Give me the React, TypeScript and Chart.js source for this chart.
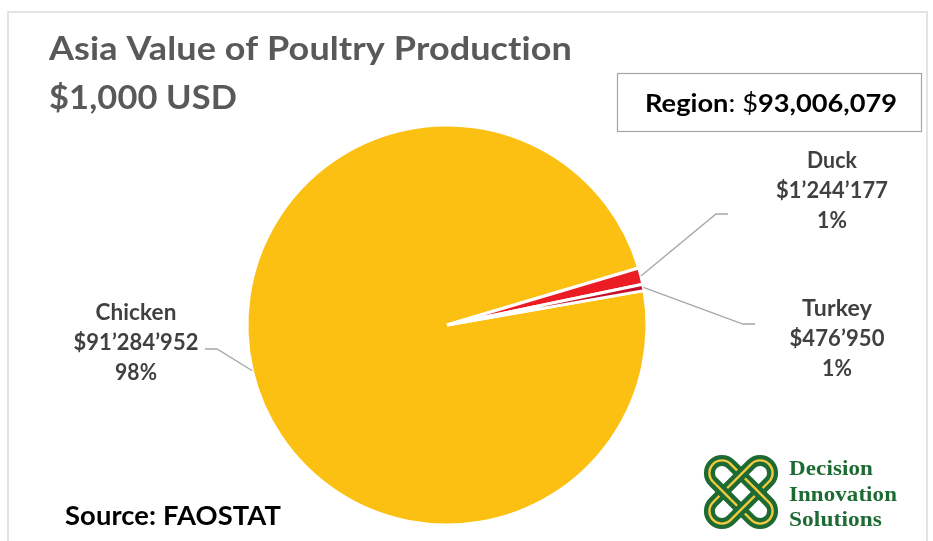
import React, { useEffect, useRef } from "react";
import { Chart, registerables } from "chart.js";

Chart.register(...registerables);

// ---- data ----
const categories = ["Chicken", "Duck", "Turkey"];
const values = [91284952, 1244177, 476950];
const valueLabels = ["$91’284’952", "$1’244’177", "$476’950"];
const percentLabels = ["98%", "1%", "1%"];
const sliceColors = ["#FBC012", "#EC1C24", "#C8102E"];
const titleLines = ["Asia Value of Poultry Production", "$1,000 USD"];
const regionLabel = "Region";
const regionTotal = "93,006,079";
const sourceText = "Source: FAOSTAT";
const logoLines = ["Decision", "Innovation", "Solutions"];

// ---- layout (positions / styles only) ----
const W = 933;
const H = 541;
const labelLayout = [
  { cx: 136, baseline: 320, elbow: [217, 349], end: [205, 349], widths: [81, 125, 42] },
  { cx: 832, baseline: 168, elbow: [716, 214], end: [728, 214], widths: [50, 112, 30] },
  { cx: 837, baseline: 316, elbow: [743, 324], end: [755, 324], widths: [70, 95, 30] },
];
const SANS = "Lato, 'Open Sans', sans-serif";
const SERIF = "'Liberation Serif', 'DejaVu Serif', serif";

function fitText(
  ctx: CanvasRenderingContext2D,
  text: string,
  x: number,
  y: number,
  font: string,
  color: string,
  align: "left" | "center",
  target?: number
) {
  ctx.save();
  ctx.font = font;
  (ctx as any).letterSpacing = "0.1px";
  ctx.fillStyle = color;
  ctx.textBaseline = "alphabetic";
  const w = ctx.measureText(text).width;
  const sx = target ? target / w : 1;
  const drawW = w * sx;
  const left = align === "center" ? x - drawW / 2 : x;
  ctx.translate(left, y);
  ctx.scale(sx, 1);
  ctx.textAlign = "left";
  ctx.fillText(text, 0, 0);
  ctx.restore();
}

function pillPath(ctx: CanvasRenderingContext2D, half: number, r: number) {
  ctx.beginPath();
  ctx.moveTo(-half, -r);
  ctx.lineTo(half, -r);
  ctx.arc(half, 0, r, -Math.PI / 2, Math.PI / 2);
  ctx.lineTo(-half, r);
  ctx.arc(-half, 0, r, Math.PI / 2, (3 * Math.PI) / 2);
  ctx.closePath();
}

function drawPill(ctx: CanvasRenderingContext2D, cx: number, cy: number, ang: number) {
  ctx.save();
  ctx.translate(cx, cy);
  ctx.rotate(ang);
  pillPath(ctx, 27, 12.5);
  ctx.strokeStyle = "#1D6B33";
  ctx.lineWidth = 11;
  ctx.stroke();
  ctx.strokeStyle = "#F3C93F";
  ctx.lineWidth = 2.4;
  ctx.stroke();
  ctx.restore();
}

function drawLogo(ctx: CanvasRenderingContext2D, cx: number, cy: number) {
  drawPill(ctx, cx, cy, Math.PI / 4);
  drawPill(ctx, cx, cy, -Math.PI / 4);
  // interlace: redraw first pill over two crossings
  ctx.save();
  ctx.beginPath();
  ctx.rect(cx - 17.7 - 8, cy - 8, 16, 16);
  ctx.rect(cx + 17.7 - 8, cy - 8, 16, 16);
  ctx.clip();
  drawPill(ctx, cx, cy, Math.PI / 4);
  ctx.restore();
}

const overlayPlugin = {
  id: "overlay",
  beforeDraw(chart: any) {
    const ctx: CanvasRenderingContext2D = chart.ctx;
    ctx.save();
    ctx.fillStyle = "#ffffff";
    ctx.fillRect(0, 0, chart.width, chart.height);
    ctx.strokeStyle = "#E4E4E4";
    ctx.lineWidth = 2;
    ctx.strokeRect(8, 12, 919, 580);
    ctx.restore();
  },
  afterDraw(chart: any) {
    const ctx: CanvasRenderingContext2D = chart.ctx;
    // titles
    fitText(ctx, titleLines[0], 49, 60, `bold 33px ${SANS}`, "#595959", "left", 523);
    fitText(ctx, titleLines[1], 49, 109, `bold 33px ${SANS}`, "#595959", "left", 188);

    // region box
    ctx.save();
    ctx.fillStyle = "#ffffff";
    ctx.fillRect(617, 73, 304, 59);
    ctx.strokeStyle = "#A6A6A6";
    ctx.lineWidth = 1.2;
    ctx.strokeRect(617.5, 73.5, 304, 58);
    ctx.restore();
    {
      const parts = [
        { t: regionLabel, f: `bold 25px ${SANS}` },
        { t: ": ", f: `25px ${SANS}` },
        { t: "$", f: `25px ${SANS}` },
        { t: regionTotal, f: `bold 25px ${SANS}` },
      ];
      let total = 0;
      const ws = parts.map((p) => {
        ctx.font = p.f;
        const w = ctx.measureText(p.t).width;
        total += w;
        return w;
      });
      const sx = 252 / total;
      let x = 645;
      parts.forEach((p, i) => {
        ctx.save();
        ctx.font = p.f;
        ctx.fillStyle = "#000000";
        ctx.translate(x, 112);
        ctx.scale(sx, 1);
        ctx.fillText(p.t, 0, 0);
        ctx.restore();
        x += ws[i] * sx;
      });
    }

    // leader lines + labels
    const meta = chart.getDatasetMeta(0);
    meta.data.forEach((arc: any, i: number) => {
      const p = arc.getProps(["x", "y", "startAngle", "endAngle", "outerRadius"], true);
      const mid = (p.startAngle + p.endAngle) / 2;
      const sx0 = p.x + Math.cos(mid) * p.outerRadius;
      const sy0 = p.y + Math.sin(mid) * p.outerRadius;
      const L = labelLayout[i];
      ctx.save();
      ctx.strokeStyle = "#A6A6A6";
      ctx.lineWidth = 1.3;
      ctx.beginPath();
      ctx.moveTo(sx0, sy0);
      ctx.lineTo(L.elbow[0], L.elbow[1]);
      ctx.lineTo(L.end[0], L.end[1]);
      ctx.stroke();
      ctx.restore();
      const lines = [categories[i], valueLabels[i], percentLabels[i]];
      lines.forEach((t, j) => {
        fitText(ctx, t, L.cx, L.baseline + j * 30, `bold 22.5px ${SANS}`, "#404040", "center", L.widths[j]);
      });
    });

    // source
    fitText(ctx, sourceText, 65, 525, `bold 27px ${SANS}`, "#000000", "left", 216);

    // logo
    drawLogo(ctx, 741, 492);
    fitText(ctx, logoLines[0], 789, 475, `bold 21px ${SERIF}`, "#1D6B33", "left", 84);
    fitText(ctx, logoLines[1], 789, 501, `bold 21px ${SERIF}`, "#1D6B33", "left", 108);
    fitText(ctx, logoLines[2], 789, 526, `bold 21px ${SERIF}`, "#1D6B33", "left", 93);
  },
};

export default function App() {
  const ref = useRef<HTMLCanvasElement | null>(null);
  useEffect(() => {
    document.body.style.margin = "0";
    const canvas = ref.current!;
    const chart = new Chart(canvas, {
      type: "pie",
      data: {
        labels: categories,
        datasets: [
          {
            data: values,
            backgroundColor: sliceColors,
            borderColor: "#ffffff",
            borderWidth: 3,
            rotation: 80.1,
            radius: 200,
          } as any,
        ],
      },
      options: {
        responsive: false,
        animation: false,
        events: [],
        layout: { padding: { left: 248, top: 126, right: 287, bottom: 17 } },
        plugins: {
          legend: { display: false },
          tooltip: { enabled: false },
          title: { display: false },
        },
      },
      plugins: [overlayPlugin],
    });
    return () => chart.destroy();
  }, []);
  return <canvas ref={ref} width={W} height={H} style={{ display: "block" }} />;
}
